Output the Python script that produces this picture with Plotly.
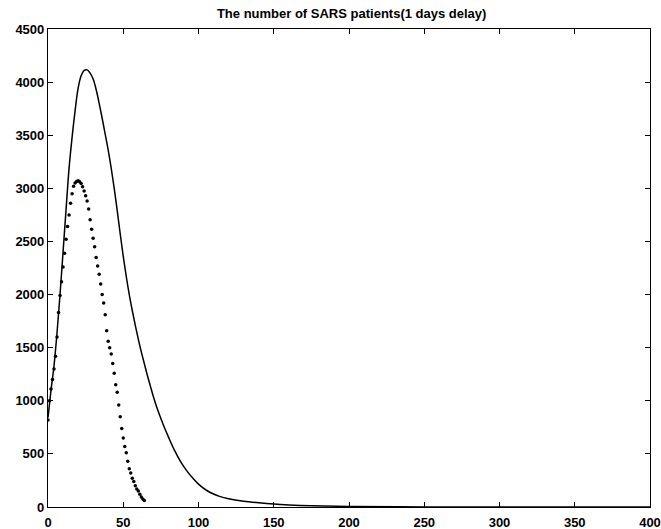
import plotly.graph_objects as go

# Solid curve (model)
solid_days = [0, 2, 4, 6, 8, 10, 12, 14, 16, 18, 20, 22, 24, 26, 28, 30, 32, 34, 36,
              38, 40, 42, 44, 46, 48, 50, 52, 54, 56, 58, 60, 62, 64, 66, 68, 70, 72,
              74, 77, 80, 84, 88, 92, 96, 100, 105, 110, 114, 120, 130, 140, 150, 160,
              175, 200, 250, 300, 350, 400]
solid_vals = [842, 1100, 1330, 1640, 2000, 2400, 2800, 3190, 3480, 3730, 3940, 4060,
              4110, 4115, 4085, 4030, 3930, 3800, 3660, 3510, 3360, 3190, 3000, 2790,
              2570, 2360, 2170, 2000, 1850, 1710, 1580, 1460, 1350, 1240, 1140, 1040,
              950, 870, 760, 660, 535, 430, 345, 275, 215, 160, 122, 100, 78, 55, 40,
              28, 20, 12, 5, 1, 0.2, 0.05, 0]

# Dotted series (observed)
dot_days = list(range(0, 65))
dot_vals = [820, 1000, 1110, 1200, 1300, 1420, 1600, 1830, 1990, 2120, 2260, 2390,
            2520, 2640, 2750, 2860, 2950, 3020, 3050, 3065, 3072, 3062, 3045, 3015,
            2975, 2930, 2880, 2805, 2705, 2615, 2530, 2450, 2350, 2270, 2190, 2100,
            2000, 1920, 1810, 1660, 1560, 1500, 1440, 1350, 1260, 1150, 1080, 960,
            850, 740, 650, 570, 510, 430, 360, 320, 270, 240, 200, 170, 150, 120,
            95, 75, 62]

x_ticks = [0, 50, 100, 150, 200, 250, 300, 350, 400]
y_ticks = [0, 500, 1000, 1500, 2000, 2500, 3000, 3500, 4000, 4500]

fig = go.Figure()
fig.add_trace(go.Scatter(x=solid_days, y=solid_vals, mode="lines",
                         line=dict(color="black", width=1.5, shape="spline", smoothing=1),
                         showlegend=False))
fig.add_trace(go.Scatter(x=dot_days, y=dot_vals, mode="markers",
                         marker=dict(color="black", size=3.5),
                         showlegend=False))

font_fam = "Liberation Sans, Arial"
axis_common = dict(showgrid=False, zeroline=False, showline=True, linecolor="black",
                   linewidth=1.2, mirror="ticks", ticks="inside", ticklen=5,
                   tickcolor="black", automargin=False,
                   tickfont=dict(family=font_fam, size=13, color="black",
                                 weight="bold"))
fig.update_xaxes(range=[0, 400], tickvals=x_ticks, ticktext=[str(v) for v in x_ticks],
                 ticklabelstandoff=3, **axis_common)
fig.update_yaxes(range=[0, 4500], tickvals=y_ticks, ticktext=[str(v) for v in y_ticks],
                 ticklabelstandoff=0, **axis_common)

fig.update_layout(
    width=661, height=529,
    margin=dict(l=48, r=11, t=29, b=22),
    paper_bgcolor="white", plot_bgcolor="white",
    title=dict(text="<b>The number of SARS patients(1 days delay)</b>", x=0.532,
               xanchor="center", y=0.975, yanchor="middle",
               font=dict(family=font_fam, size=13, color="black")),
)

fig.write_html("out.html",
               config={"displayModeBar": False},
               post_script="document.body.style.margin='0';"
                           "document.body.style.overflow='hidden';")
